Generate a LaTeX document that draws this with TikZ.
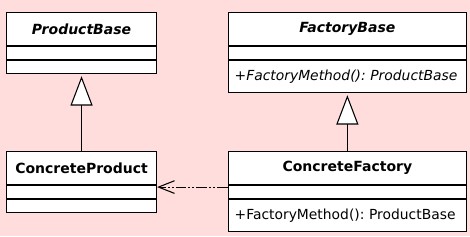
\documentclass[tikz,border=0pt]{standalone}
\usepackage{fontspec}
\setmainfont{DejaVu Sans}
\usetikzlibrary{arrows.meta,positioning,calc}
\definecolor{bgpink}{RGB}{255,221,221}
\frenchspacing
\tikzset{
  comp/.style={rectangle, draw, line width=0.8pt, fill=white, inner sep=0pt,
               font=\fontsize{10.5}{12}\selectfont},
  hdr/.style={comp, minimum height=24.75pt,
              font=\fontsize{10.5}{12}\selectfont\bfseries},
  abshdr/.style={hdr, font=\fontsize{10.5}{12}\selectfont\bfseries\itshape},
  slim/.style={comp, minimum height=9.75pt},
  ops/.style={comp, minimum height=24pt, inner xsep=5pt, text width=169pt,
              align=left, font=\fontsize{10.4}{12}\selectfont},
  pw/.style={minimum width=112.5pt},
  fw/.style={minimum width=179pt},
  inherit/.style={-{Triangle[fill=white, length=22pt, width=16.5pt]},
                  line width=0.8pt, shorten >=1.5pt},
  depend/.style={-{Straight Barb[length=12pt, width=9.5pt]}, line width=0.8pt,
                 dash pattern=on 8pt off 1.5pt on 1.5pt off 1.5pt on 1.5pt off 1.5pt}
}
\begin{document}
\begin{tikzpicture}[x=0.75pt, y=-0.75pt, node distance=0pt]
  \fill[bgpink] (0,0) rectangle (470,236);
  \useasboundingbox (0,0) rectangle (470,236);
  % product classes
  \node[abshdr, pw, anchor=north west] (pbTitle) at (6,12) {ProductBase};
  \node[slim, pw, below=of pbTitle] (pbAttr) {};
  \node[slim, pw, below=of pbAttr] (pbOps) {};
  \node[hdr, pw, anchor=north west] (cpTitle) at (6,151) {ConcreteProduct};
  \node[slim, pw, below=of cpTitle] (cpAttr) {};
  \node[slim, pw, below=of cpAttr] (cpOps) {};
  % factory classes
  \node[abshdr, fw, anchor=north west] (fbTitle) at (227.5,12) {FactoryBase};
  \node[slim, fw, below=of fbTitle] (fbAttr) {};
  \node[ops, below=of fbAttr, font=\fontsize{10.4}{12}\selectfont\itshape] (fbOps)
    {\mbox{+FactoryMethod(): ProductBase}};
  \node[hdr, fw, anchor=north west] (cfTitle) at (227.5,151) {ConcreteFactory};
  \node[slim, fw, below=of cfTitle] (cfAttr) {};
  \node[ops, below=of cfAttr] (cfOps) {\mbox{+FactoryMethod(): ProductBase}};
  % relations
  \draw[inherit] (cpTitle) -- (pbOps);
  \draw[inherit] (cfTitle) -- (fbOps);
  \draw[depend] ($(cfAttr.north west)+(0,2)$) -- ($(cpAttr.north east)+(0,2)$);
\end{tikzpicture}
\end{document}
